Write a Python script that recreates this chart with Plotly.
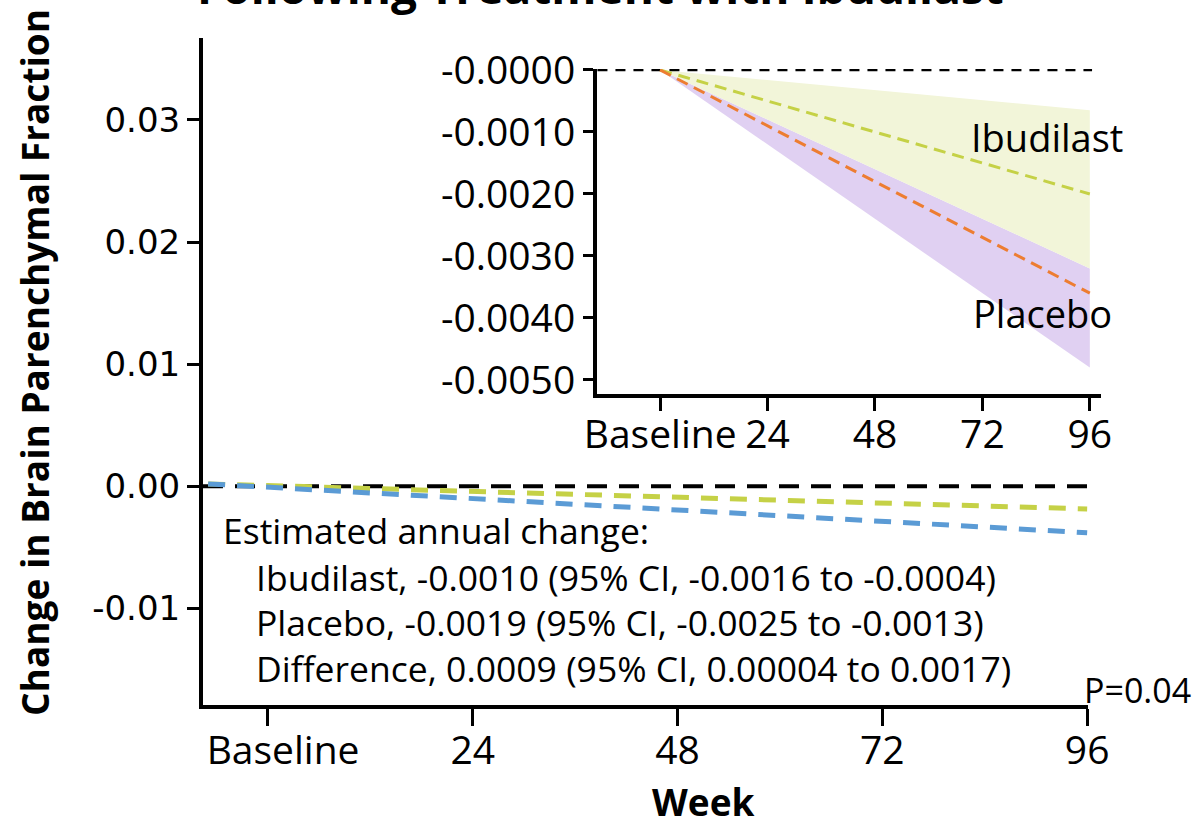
import plotly.graph_objects as go

W, H = 1193, 828

# ---------------- data ----------------
# main panel
main_weeks = [-7, 96]
zero_weeks_main = [-7.6, 96]
zero_vals = [0, 0]
ibu_main = [0.0002, -0.00185]
pbo_main = [0.0002, -0.0038]
main_xticks = [0, 24, 48, 72, 96]
main_xlabels = ["\u00a0\u00a0\u00a0Baseline", "24", "48", "72", "96"]
main_yticks = [-0.01, 0.0, 0.01, 0.02, 0.03]
main_ylabels = ["-0.01", "0.00", "0.01", "0.02", "0.03"]

# inset panel
inset_weeks = [0, 96]
zero_weeks_inset = [-14, 96.5]
ibu_mean = [0, -0.0020]
ibu_upper = [0, -0.00065]
ibu_lower = [0, -0.0032]
pbo_mean = [0, -0.0036]
pbo_upper = [0, -0.0032]
pbo_lower = [0, -0.0048]
inset_xticks = [0, 24, 48, 72, 96]
inset_xlabels = ["Baseline", "24", "48", "72", "96"]
inset_yticks = [0, -0.001, -0.002, -0.003, -0.004, -0.005]
inset_ylabels = ["-0.0000", "-0.0010", "-0.0020", "-0.0030", "-0.0040", "-0.0050"]

summary_lines = [
    "Estimated annual change:",
    "Ibudilast, -0.0010 (95% CI, -0.0016 to -0.0004)",
    "Placebo, -0.0019 (95% CI, -0.0025 to -0.0013)",
    "Difference, 0.0009 (95% CI, 0.00004 to 0.0017)",
]

# ---------------- styling ----------------
FONT = "Open Sans"
C_IBU = "#c5d146"
C_BLUE = "#5b9bd5"
C_ORANGE = "#ed7d31"
C_IBU_BAND = "rgba(242,245,217,1)"
C_PBO_BAND = "rgba(224,208,242,1)"


def px_x(x):
    return x / W


def px_y(y):
    return 1 - y / H


fig = go.Figure()

# main panel traces
fig.add_trace(go.Scatter(x=zero_weeks_main, y=zero_vals, mode="lines",
                         line=dict(color="black", width=4, dash="20px,12px"),
                         xaxis="x", yaxis="y", showlegend=False, hoverinfo="skip"))
fig.add_trace(go.Scatter(x=main_weeks, y=ibu_main, mode="lines",
                         line=dict(color=C_IBU, width=5, dash="17px,12px"),
                         xaxis="x", yaxis="y", showlegend=False))
fig.add_trace(go.Scatter(x=main_weeks, y=pbo_main, mode="lines",
                         line=dict(color=C_BLUE, width=5, dash="17px,12px"),
                         xaxis="x", yaxis="y", showlegend=False))

# inset bands
fig.add_trace(go.Scatter(x=inset_weeks + inset_weeks[::-1], y=pbo_upper + pbo_lower[::-1],
                         mode="lines", fill="toself", fillcolor=C_PBO_BAND,
                         line=dict(width=0, color=C_PBO_BAND),
                         xaxis="x2", yaxis="y2", showlegend=False))
fig.add_trace(go.Scatter(x=inset_weeks + inset_weeks[::-1], y=ibu_upper + ibu_lower[::-1],
                         mode="lines", fill="toself", fillcolor=C_IBU_BAND,
                         line=dict(width=0, color=C_IBU_BAND),
                         xaxis="x2", yaxis="y2", showlegend=False))
fig.add_trace(go.Scatter(x=zero_weeks_inset, y=zero_vals, mode="lines",
                         line=dict(color="black", width=2.5, dash="10px,8px"),
                         xaxis="x2", yaxis="y2", showlegend=False, hoverinfo="skip"))
fig.add_trace(go.Scatter(x=inset_weeks, y=ibu_mean, mode="lines",
                         line=dict(color=C_IBU, width=3, dash="12px,7px"),
                         xaxis="x2", yaxis="y2", showlegend=False))
fig.add_trace(go.Scatter(x=inset_weeks, y=pbo_mean, mode="lines",
                         line=dict(color=C_ORANGE, width=3, dash="12px,7px"),
                         xaxis="x2", yaxis="y2", showlegend=False))

axis_common = dict(showline=True, linecolor="black", showgrid=False, zeroline=False,
                   ticks="outside", tickcolor="black", automargin=False)

fig.update_layout(
    template="none",
    width=W, height=H,
    margin=dict(l=0, r=0, t=0, b=0, pad=0, autoexpand=False),
    paper_bgcolor="white", plot_bgcolor="rgba(0,0,0,0)",
    showlegend=False,
    xaxis=dict(**axis_common, domain=[px_x(203), px_x(1088)], range=[-7.6, 96.1],
               linewidth=4, tickwidth=3, ticklen=17, ticklabelstandoff=-9,
               tickvals=main_xticks, ticktext=main_xlabels,
               tickfont=dict(family=FONT, size=39, color="black"), anchor="y"),
    yaxis=dict(**axis_common, domain=[px_y(705), px_y(38)], range=[-0.0179, 0.0367],
               linewidth=4, tickwidth=3, ticklen=12,
               tickvals=main_yticks, ticktext=main_ylabels,
               tickfont=dict(family="DejaVu Sans", size=34, color="black"), anchor="x"),
    xaxis2=dict(**axis_common, domain=[px_x(597), px_x(1101)], range=[-14.1, 98.5],
                linewidth=4, tickwidth=3, ticklen=13, ticklabelstandoff=-10,
                tickvals=inset_xticks, ticktext=inset_xlabels,
                tickfont=dict(family=FONT, size=39, color="black"), anchor="y2"),
    yaxis2=dict(**axis_common, domain=[px_y(394), px_y(69)], range=[-0.005226, 0.000016],
                linewidth=4, tickwidth=3, ticklen=10,
                tickvals=inset_yticks, ticktext=inset_ylabels,
                tickfont=dict(family=FONT, size=39, color="black"), anchor="x2"),
)

ann = []
# title (partly cut off at top, as in the source)
ann.append(dict(text="<b>Following Treatment with Ibudilast</b>", x=px_x(600), y=px_y(19),
                xref="paper", yref="paper", xanchor="center", yanchor="bottom",
                showarrow=False, font=dict(family=FONT, size=46, color="black")))
# axis titles
ann.append(dict(text="<b>Week</b>", x=px_x(703), y=px_y(801), xref="paper", yref="paper",
                xanchor="center", yanchor="middle", showarrow=False,
                font=dict(family=FONT, size=37, color="black")))
ann.append(dict(text="<b>Change in Brain Parenchymal Fraction</b>", x=px_x(35), y=px_y(363),
                xref="paper", yref="paper", xanchor="center", yanchor="middle",
                textangle=-90, showarrow=False,
                font=dict(family=FONT, size=37, color="black")))
# summary text
sum_pos = [(221, 530), (254, 577), (254, 622), (254, 668)]
for line, (sx, sy) in zip(summary_lines, sum_pos):
    ann.append(dict(text=line, x=px_x(sx), y=px_y(sy), xref="paper", yref="paper",
                    xanchor="left", yanchor="middle", showarrow=False,
                    font=dict(family=FONT, size=35.5, color="black")))
ann.append(dict(text="P=0.04", x=px_x(1193), y=px_y(690), xref="paper", yref="paper",
                xanchor="right", yanchor="middle", showarrow=False,
                font=dict(family=FONT, size=34, color="black")))
# inset labels
ann.append(dict(text="Ibudilast", x=px_x(969), y=px_y(137), xref="paper", yref="paper",
                xanchor="left", yanchor="middle", showarrow=False,
                font=dict(family=FONT, size=38, color="black")))
ann.append(dict(text="Placebo", x=px_x(971), y=px_y(313), xref="paper", yref="paper",
                xanchor="left", yanchor="middle", showarrow=False,
                font=dict(family=FONT, size=38, color="black")))
fig.update_layout(annotations=ann)

fig.write_html("out.html")
